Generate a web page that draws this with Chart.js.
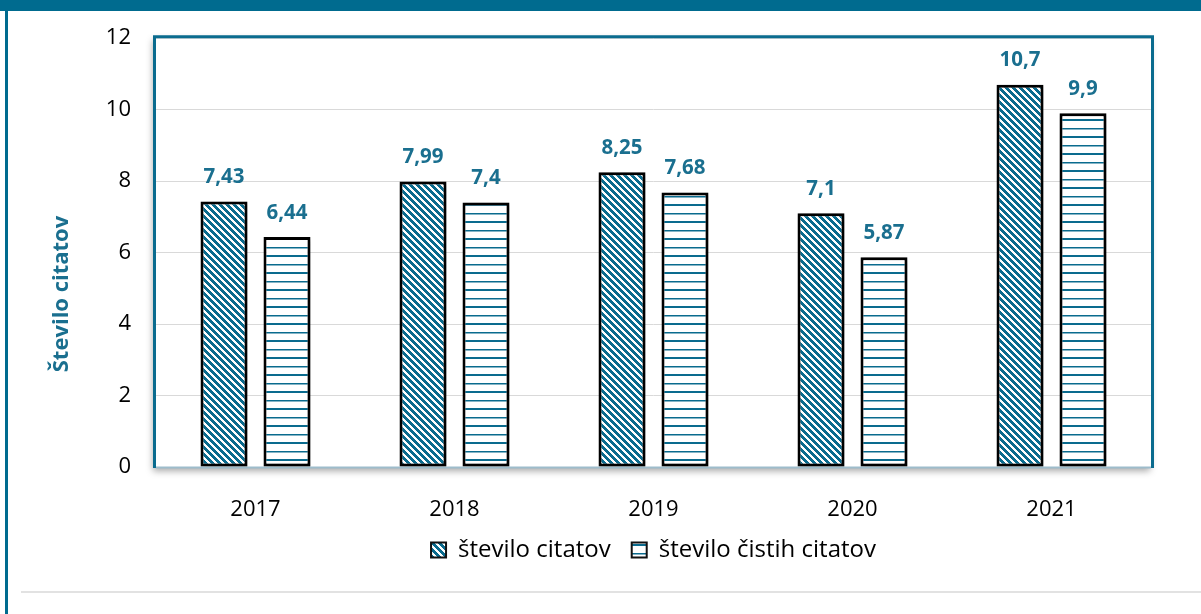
<!DOCTYPE html>
<html><head><meta charset="utf-8">
<script src="https://cdn.jsdelivr.net/npm/chart.js@4"></script>
<style>html,body{margin:0;padding:0;background:#fff}#wrap{width:1201px;height:614px;position:relative}</style>
</head><body><div id="wrap"><canvas id="c" width="1201" height="614"></canvas></div>
<script>
const categories = ['2017','2018','2019','2020','2021'];
const steviloCitatov = [7.43, 7.99, 8.25, 7.1, 10.7];
const steviloCistihCitatov = [6.44, 7.4, 7.68, 5.87, 9.9];
const seriesNames = ['število citatov','število čistih citatov'];
const yTitle = 'Število citatov';
const TEAL = '#0a6b8e';
const FONT = "'Open Sans', 'DejaVu Sans', sans-serif";

function diagPattern(){
  const P=7;
  const c=document.createElement('canvas'); c.width=P; c.height=P;
  const x=c.getContext('2d'); const img=x.createImageData(P,P);
  for(let py=0;py<P;py++)for(let px=0;px<P;px++){
    const i=(py*P+px)*4; const on=(((px-py)%P)+P)%P<4;
    img.data[i]=on?10:255; img.data[i+1]=on?107:255; img.data[i+2]=on?142:255; img.data[i+3]=255;
  }
  x.putImageData(img,0,0);
  return document.createElement('canvas').getContext('2d').createPattern(c,'repeat');
}
function horizPattern(){
  const c=document.createElement('canvas'); c.width=4; c.height=17;
  const x=c.getContext('2d'); x.fillStyle='#fff'; x.fillRect(0,0,4,17);
  x.fillStyle=TEAL; x.fillRect(0,0,4,2); x.fillRect(0,9,4,1.5);
  return document.createElement('canvas').getContext('2d').createPattern(c,'repeat');
}

const framePlugin={
  id:'frame',
  beforeDraw(chart){
    const ctx=chart.ctx, a=chart.chartArea;
    ctx.save();
    ctx.fillStyle='#fff'; ctx.fillRect(0,0,chart.width,chart.height);
    ctx.fillStyle='#006b8f'; ctx.fillRect(0,0,chart.width,11);
    ctx.fillRect(5,0,3,chart.height);
    ctx.fillStyle='#e2e2e2'; ctx.fillRect(21,591,chart.width-21,2);
    ctx.shadowColor='rgba(0,0,0,0.35)'; ctx.shadowBlur=7; ctx.shadowOffsetX=-2; ctx.shadowOffsetY=3;
    ctx.fillStyle='#fff'; ctx.fillRect(a.left-1,a.top-1,a.right-a.left+2,a.bottom-a.top+2);
    ctx.restore();
  },
  beforeDatasetsDraw(chart){
    const ctx=chart.ctx, a=chart.chartArea;
    ctx.save();
    ctx.strokeStyle='#9dbccb'; ctx.lineWidth=2;
    ctx.beginPath(); ctx.moveTo(a.left,a.bottom+0.5); ctx.lineTo(a.right,a.bottom+0.5); ctx.stroke();
    ctx.strokeStyle='#0a6b8e'; ctx.lineWidth=3;
    ctx.beginPath(); ctx.moveTo(a.left-1.5,a.bottom+1); ctx.lineTo(a.left-1.5,a.top-1.5); ctx.lineTo(a.right+1.5,a.top-1.5); ctx.lineTo(a.right+1.5,a.bottom+1); ctx.stroke();
    ctx.restore();
    ctx.save();
    ctx.shadowColor='rgba(0,0,0,0.3)'; ctx.shadowBlur=6; ctx.shadowOffsetX=3; ctx.shadowOffsetY=2;
  },
  afterDatasetsDraw(chart){
    const ctx=chart.ctx;
    ctx.restore();
    ctx.save();
    ctx.fillStyle='#1a6f8f'; ctx.font="bold 20.5px "+FONT; ctx.textAlign='center'; ctx.textBaseline='middle';
    chart.data.datasets.forEach((ds,di)=>{
      chart.getDatasetMeta(di).data.forEach((bar,i)=>{
        ctx.fillText(String(ds.data[i]).replace('.',','), bar.x, bar.y-24);
      });
    });
    ctx.translate(62,294); ctx.rotate(-Math.PI/2);
    ctx.fillStyle='#1a6f8f'; ctx.font="bold 22px "+FONT;
    ctx.fillText(yTitle,0,0);
    ctx.restore();
  }
};

new Chart(document.getElementById('c'),{
  type:'bar',
  data:{labels:categories,datasets:[
    {label:seriesNames[0],data:steviloCitatov,backgroundColor:diagPattern(),borderColor:'#000',borderWidth:3,borderSkipped:false,categoryPercentage:0.633,barPercentage:0.746},
    {label:seriesNames[1],data:steviloCistihCitatov,backgroundColor:horizPattern(),borderColor:'#000',borderWidth:3,borderSkipped:false,categoryPercentage:0.633,barPercentage:0.746}
  ]},
  options:{
    responsive:false,animation:false,
    layout:{padding:{left:50,right:50,top:35,bottom:42}},
    plugins:{
      tooltip:{enabled:false},
      legend:{position:'bottom',fullSize:false,labels:{font:{family:FONT,size:24},color:'#000',boxWidth:15,boxHeight:15,padding:21,
        generateLabels(chart){
          return chart.data.datasets.map((ds,i)=>({text:ds.label,fillStyle:ds.backgroundColor,strokeStyle:'#111',lineWidth:2,datasetIndex:i,hidden:false}));
        }}}
    },
    scales:{
      x:{grid:{display:false},border:{display:false},ticks:{font:{family:FONT,size:22},color:'#000',padding:22},
        afterFit(s){s.height=50;}},
      y:{min:0,max:12,ticks:{stepSize:2,font:{family:FONT,size:22},color:'#000',padding:25},
        grid:{color:'#d9d9d9',lineWidth:1,tickLength:0,drawTicks:false},border:{display:false},
        afterFit(s){s.width=106;}}
    }
  },
  plugins:[framePlugin]
});
</script></body></html>
